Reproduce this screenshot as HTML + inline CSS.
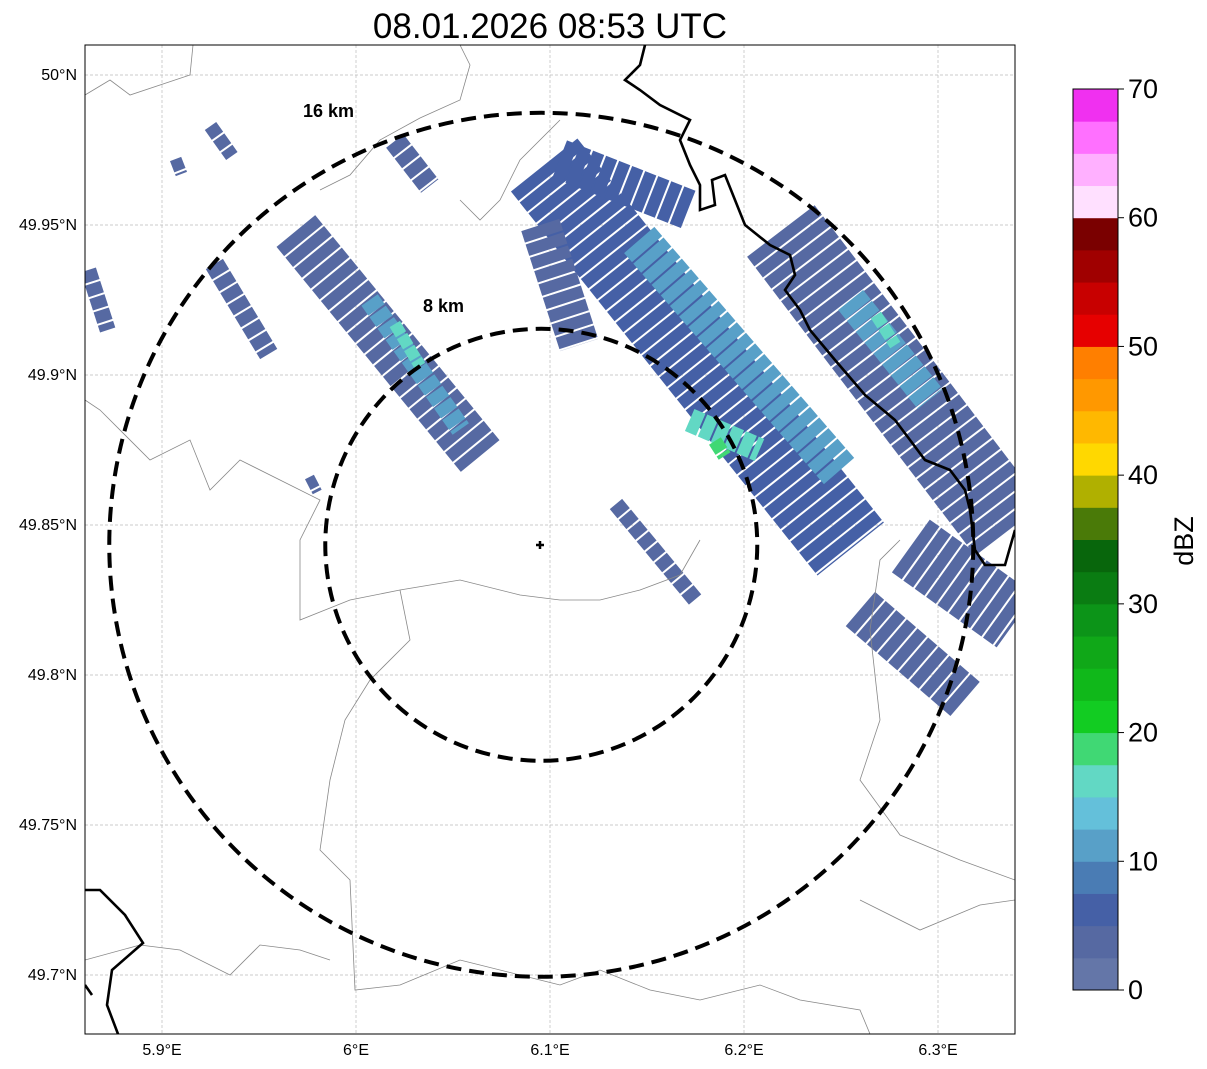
<!DOCTYPE html>
<html><head><meta charset="utf-8">
<style>
html,body{margin:0;padding:0;background:#fff;}
svg{display:block;font-family:"Liberation Sans",sans-serif;}
</style></head>
<body>
<svg id="chart" width="1207" height="1069" viewBox="0 0 1207 1069" xmlns="http://www.w3.org/2000/svg">
<defs><clipPath id="mapclip"><rect x="85" y="45" width="930" height="989"/></clipPath></defs>
<text x="550" y="38" font-size="35" text-anchor="middle">08.01.2026 08:53 UTC</text>
<g id="grid"></g>
<g id="echoes" clip-path="url(#mapclip)"></g>
<g id="geo" clip-path="url(#mapclip)" fill="none">
<path stroke="#888" stroke-width="0.8" d="M85,400 L100,410 L150,460 L190,440 L210,490 L240,460 L290,485 L320,500 L300,540 L300,620 L350,600 L400,590 L460,580 L520,595 L560,600 L600,600 L640,590 L680,575 L700,540"/>
<path stroke="#888" stroke-width="0.8" d="M400,590 L410,640 L370,680 L345,720 L330,780 L320,850 L350,880 L355,990 L400,985 L460,960 L520,975 L560,985 L600,970 L650,990 L700,1000 L760,985 L800,1000 L860,1010 L870,1034"/>
<path stroke="#888" stroke-width="0.8" d="M85,95 L110,80 L130,95 L190,75 L193,45"/>
<path stroke="#888" stroke-width="0.8" d="M460,45 L470,65 L460,100 L420,118 L380,140 L350,175 L320,190"/>
<path stroke="#888" stroke-width="0.8" d="M85,960 L140,945 L180,950 L230,975 L260,945 L300,950 L330,960"/>
<path stroke="#888" stroke-width="0.8" d="M1015,880 L960,860 L900,835 L860,780 L880,720 L870,630 L880,560 L900,540"/>
<path stroke="#888" stroke-width="0.8" d="M560,120 L520,160 L500,200 L480,220 L460,200"/>
<path stroke="#888" stroke-width="0.8" d="M860,900 L920,930 L980,905 L1015,900"/>
<path stroke="#000" stroke-width="2.6" d="M645,45 L640,65 L625,80 L640,90 L660,105 L690,120 L680,140 L690,165 L700,185 L700,210 L715,205 L712,180 L725,175 L735,200 L745,225 L770,245 L790,255 L795,275 L785,290 L800,310 L810,330 L835,360 L865,395 L895,420 L910,440 L925,460 L950,470 L965,490 L970,510 L975,550 L985,565 L1005,565 L1015,530"/>
<path stroke="#000" stroke-width="2.6" d="M85,890 L100,890 L125,915 L143,943 L112,970 L107,1005 L118,1034"/>
<path stroke="#000" stroke-width="2.6" d="M85,985 L92,995"/>
</g>
<g id="rings" fill="none" stroke="#000" stroke-width="4" stroke-dasharray="15,8"></g>
<path d="M536,545 H544 M540,541 V549" stroke="#000" stroke-width="2.5"/>
<text x="303" y="117" font-size="18" font-weight="bold">16 km</text>
<text x="423" y="312" font-size="18" font-weight="bold">8 km</text>
<rect x="85" y="45" width="930" height="989" fill="none" stroke="#000" stroke-width="1"/>
<g id="ticks" font-size="16"></g>
<g id="cbar"></g>
<text transform="translate(1193,541) rotate(-90)" font-size="27" text-anchor="middle">dBZ</text>
</svg>
<script>
const NS="http://www.w3.org/2000/svg";
const latTicks=[50.0,49.95,49.9,49.85,49.8,49.75,49.7];
const latLabels=["50°N","49.95°N","49.9°N","49.85°N","49.8°N","49.75°N","49.7°N"];
const lonTicks=[5.9,6.0,6.1,6.2,6.3];
const lonLabels=["5.9°E","6°E","6.1°E","6.2°E","6.3°E"];
const cbarTicks=[0,10,20,30,40,50,60,70];
const cbarColors=["#6476a8","#5669a2","#4560a6","#4a7cb4","#58a0c8","#64c0da","#62d8c4","#40d874","#12cc22","#10b81a","#10a818","#0c9418","#0a7c12","#08660c","#4a7a08","#b0b000","#ffd800","#ffb800","#ff9800","#ff7f00","#e60000","#c80000","#a00000","#7a0000","#ffe0ff","#ffb0ff","#ff70ff","#f030f0"];
// echo streaks: start lon/lat, end lon/lat, width, dBZ
const echoLon1=[5.969,5.925,5.907,5.927,5.862,6.097,6.105,6.219,6.095,6.286,6.260,6.134,6.020,5.976,6.007,6.146,6.255,6.020,6.172,6.268,6.185];
const echoLat1=[49.948,49.983,49.972,49.937,49.935,49.970,49.972,49.948,49.950,49.843,49.822,49.857,49.978,49.866,49.925,49.945,49.925,49.917,49.885,49.920,49.878];
const echoLon2=[6.064,5.936,5.910,5.955,5.872,6.255,6.172,6.337,6.115,6.340,6.314,6.175,6.038,5.980,6.054,6.249,6.296,6.033,6.208,6.278,6.190];
const echoLat2=[49.873,49.973,49.967,49.907,49.915,49.842,49.955,49.848,49.910,49.818,49.792,49.825,49.963,49.861,49.882,49.868,49.892,49.903,49.875,49.910,49.873];
const echoWidth=[50,14,12,20,16,85,40,85,40,65,45,16,22,10,20,40,32,12,24,12,14];
const echoDbz=[4,3,3,3,3,5,5,4,4,4,3,3,3,3,12,11,11,16,16,15,19];
const ringRadiiKm=[8,16];
const siteLon=6.0955, siteLat=49.8434;

const X=lon=>356+(lon-6.0)*1940;
const Y=lat=>525-(lat-49.85)*3000;
const kmPx=27.0;
const colorFor=v=>cbarColors[Math.min(27,Math.max(0,Math.floor(v/2.5)))];

const grid=document.getElementById('grid'), ticks=document.getElementById('ticks');
latTicks.forEach((t,i)=>{
  const l=document.createElementNS(NS,'line');
  
  
  l.setAttribute('x1',85);l.setAttribute('x2',1015);l.setAttribute('y1',Y(t));l.setAttribute('y2',Y(t));
  l.setAttribute('stroke','#bbb');l.setAttribute('stroke-width','0.7');l.setAttribute('stroke-dasharray','3,2');
  grid.appendChild(l);
  const tx=document.createElementNS(NS,'text');
  
  
  tx.setAttribute('x',77);tx.setAttribute('y',Y(t)+5);tx.setAttribute('text-anchor','end');
  tx.textContent=latLabels[i];ticks.appendChild(tx);
});
lonTicks.forEach((t,i)=>{
  const l=document.createElementNS(NS,'line');
  
  
  l.setAttribute('y1',45);l.setAttribute('y2',1034);l.setAttribute('x1',X(t));l.setAttribute('x2',X(t));
  l.setAttribute('stroke','#bbb');l.setAttribute('stroke-width','0.7');l.setAttribute('stroke-dasharray','3,2');
  grid.appendChild(l);
  const tx=document.createElementNS(NS,'text');
  
  
  tx.setAttribute('x',X(t));tx.setAttribute('y',1055);tx.setAttribute('text-anchor','middle');
  tx.textContent=lonLabels[i];ticks.appendChild(tx);
});
const echoes=document.getElementById('echoes');
echoDbz.forEach((v,i)=>{
  const l=document.createElementNS(NS,'line');
  
  
  l.setAttribute('x1',X(echoLon1[i]));l.setAttribute('y1',Y(echoLat1[i]));
  l.setAttribute('x2',X(echoLon2[i]));l.setAttribute('y2',Y(echoLat2[i]));
  l.setAttribute('stroke',colorFor(v));l.setAttribute('stroke-width',echoWidth[i]);
  l.setAttribute('stroke-linecap','butt');l.setAttribute('stroke-dasharray','12,2');
  echoes.appendChild(l);
});
const rings=document.getElementById('rings');
ringRadiiKm.forEach(r=>{
  const c=document.createElementNS(NS,'circle');
  
  
  c.setAttribute('cx',X(siteLon));c.setAttribute('cy',Y(siteLat));c.setAttribute('r',r*kmPx);
  rings.appendChild(c);
});
const cbar=document.getElementById('cbar');
const CB=v=>990-v*(901/70);
cbarColors.forEach((c,i)=>{
  const r=document.createElementNS(NS,'rect');
  
  
  r.setAttribute('x',1073);r.setAttribute('width',45);
  r.setAttribute('y',CB((i+1)*2.5));r.setAttribute('height',CB(i*2.5)-CB((i+1)*2.5)+0.5);
  r.setAttribute('fill',c);cbar.appendChild(r);
});
const fr=document.createElementNS(NS,'rect');


fr.setAttribute('x',1073);fr.setAttribute('y',89);fr.setAttribute('width',45);fr.setAttribute('height',901);
fr.setAttribute('fill','none');fr.setAttribute('stroke','#000');cbar.appendChild(fr);
cbarTicks.forEach(t=>{
  const tl=document.createElementNS(NS,'line');
  
  
  tl.setAttribute('x1',1118);tl.setAttribute('x2',1124);tl.setAttribute('y1',CB(t));tl.setAttribute('y2',CB(t));
  tl.setAttribute('stroke','#000');cbar.appendChild(tl);
  const tx=document.createElementNS(NS,'text');
  
  
  tx.setAttribute('x',1128);tx.setAttribute('y',CB(t)+9);tx.setAttribute('font-size','27');
  tx.textContent=t;cbar.appendChild(tx);
});
</script>
</body></html>
